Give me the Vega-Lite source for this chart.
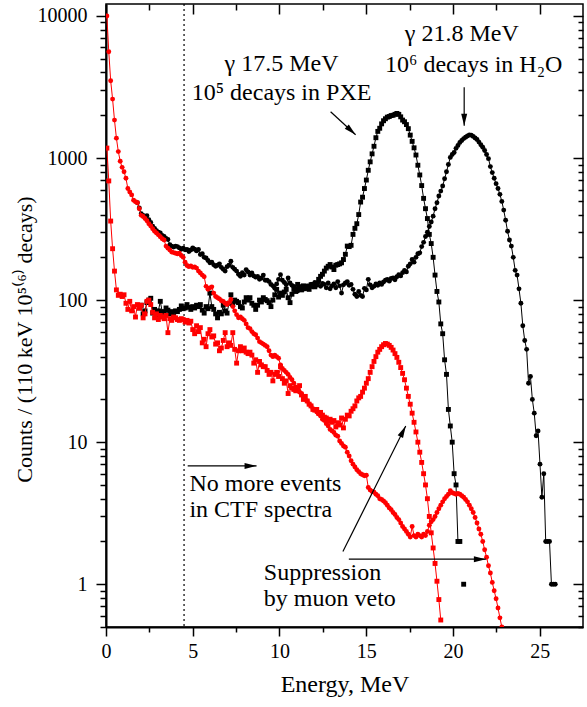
{
  "$schema": "https://vega.github.io/schema/vega-lite/v6.json",
  "width": 477,
  "height": 623,
  "autosize": "none",
  "padding": {"left": 106, "top": 4, "right": 4, "bottom": 80},
  "background": "white",
  "config": {
    "view": {"stroke": "black", "strokeWidth": 1.5},
    "font": "Liberation Serif",
    "axis": {
      "labelFont": "Liberation Serif", "titleFont": "Liberation Serif",
      "labelFontSize": 20, "titleFontSize": 22, "titleFontWeight": "normal",
      "labelColor": "black", "titleColor": "black", "tickColor": "black", "domainColor": "black",
      "grid": false, "tickWidth": 1.5, "domainWidth": 2, "labelFlush": false, "labelOverlap": false
    }
  },
  "datasets": {
    "spec": [
      {"e":0.05,"rs":1175,"rc":10000},
      {"e":0.16,"rs":690,"rc":5600},
      {"e":0.27,"rs":360,"rc":3500},
      {"e":0.38,"rs":230,"rc":2600},
      {"e":0.49,"rs":160,"rc":1850},
      {"e":0.60,"rs":118,"rc":1380},
      {"e":0.71,"rs":108,"rc":1110},
      {"e":0.82,"rs":110,"rc":950},
      {"e":0.93,"rs":106,"rc":860},
      {"e":1.04,"rs":109,"rc":800},
      {"e":1.15,"rs":95,"rc":720},
      {"e":1.26,"rs":86,"rc":610},
      {"e":1.37,"rs":98,"rc":577},
      {"e":1.48,"rs":84,"rc":550},
      {"e":1.59,"rs":90,"rc":505},
      {"e":1.70,"rs":76,"rc":492},
      {"e":1.81,"bc":485,"rs":93,"rc":484},
      {"e":1.92,"bs":88,"bc":445,"rs":88,"rc":440},
      {"e":2.03,"bs":92,"bc":405,"rs":92,"rc":395},
      {"e":2.14,"bs":80,"bc":395,"rs":75,"rc":388},
      {"e":2.25,"bs":84,"bc":382,"rs":80,"rc":375},
      {"e":2.36,"bs":96,"bc":393,"rs":98,"rc":362},
      {"e":2.47,"bs":100,"bc":368,"rs":100,"rc":345},
      {"e":2.58,"bs":103,"bc":352,"rs":93,"rc":332},
      {"e":2.69,"bs":81,"bc":331,"rs":82,"rc":318},
      {"e":2.80,"bs":86,"bc":320,"rs":75,"rc":305},
      {"e":2.91,"bs":79,"bc":308,"rs":80,"rc":297},
      {"e":3.02,"bs":84,"bc":300,"rs":73,"rc":288},
      {"e":3.13,"bs":98,"bc":297,"rs":78,"rc":279},
      {"e":3.24,"bs":83,"bc":285,"rs":76,"rc":270},
      {"e":3.35,"bs":82,"bc":281,"rs":74,"rc":265},
      {"e":3.46,"bs":88,"bc":272,"rs":78,"rc":240},
      {"e":3.57,"bs":85,"bc":267,"rs":59,"rc":232},
      {"e":3.68,"bs":80,"bc":245,"rs":74,"rc":225},
      {"e":3.79,"bs":83,"bc":240,"rs":72,"rc":218},
      {"e":3.90,"bs":77,"bc":236,"rs":76,"rc":216},
      {"e":4.01,"bs":84,"bc":240,"rs":75,"rc":214},
      {"e":4.12,"bs":83,"bc":238,"rs":73,"rc":212},
      {"e":4.23,"bs":86,"bc":233,"rs":72,"rc":214},
      {"e":4.34,"bs":91,"bc":228,"rs":74,"rc":206},
      {"e":4.45,"bs":87,"bc":232,"rs":73,"rc":200},
      {"e":4.56,"bs":88,"bc":226,"rs":70,"rc":185},
      {"e":4.67,"bs":93,"bc":227,"rs":72,"rc":175},
      {"e":4.78,"bs":89,"bc":220,"rs":69,"rc":172},
      {"e":4.89,"bs":86,"bc":225,"rs":71,"rc":174},
      {"e":5.00,"bs":90,"bc":233,"rs":62,"rc":170},
      {"e":5.11,"bs":88,"bc":228,"rs":58,"rc":171},
      {"e":5.22,"bs":92,"bc":222,"rs":66,"rc":168},
      {"e":5.33,"bs":90,"bc":227,"rs":60,"rc":160},
      {"e":5.44,"bs":93,"bc":209,"rs":64,"rc":155},
      {"e":5.55,"bs":85,"bc":212,"rs":50,"rc":150},
      {"e":5.66,"bs":81,"bc":200,"rs":53,"rc":146},
      {"e":5.77,"bs":90,"bc":198,"rs":47,"rc":125},
      {"e":5.88,"bs":87,"bc":190,"rs":58,"rc":119},
      {"e":5.99,"bs":112,"bc":183,"rs":62,"rc":122},
      {"e":6.10,"bs":90,"bc":185,"rs":55,"rc":124},
      {"e":6.21,"bs":86,"bc":177,"rs":56,"rc":112},
      {"e":6.32,"bs":80,"bc":173,"rs":49,"rc":106},
      {"e":6.43,"bs":75,"bc":176,"rs":50,"rc":104},
      {"e":6.54,"bs":82,"bc":180,"rs":44,"rc":102},
      {"e":6.65,"bs":80,"bc":170,"rs":46,"rc":99},
      {"e":6.76,"bs":92,"bc":165,"rs":52,"rc":98},
      {"e":6.87,"bs":84,"bc":160,"rs":59,"rc":95},
      {"e":6.98,"bs":81,"bc":172,"rs":47,"rc":93},
      {"e":7.09,"bs":95,"bc":176,"rs":50,"rc":96},
      {"e":7.20,"bs":109,"bc":188,"rs":48,"rc":101},
      {"e":7.31,"bs":93,"bc":170,"rs":59,"rc":90},
      {"e":7.42,"bs":100,"bc":165,"rs":45,"rc":84},
      {"e":7.53,"bs":98,"bc":160,"rs":36,"rc":79},
      {"e":7.64,"bs":96,"bc":152,"rs":44,"rc":75},
      {"e":7.75,"bs":90,"bc":147,"rs":47,"rc":76},
      {"e":7.86,"bs":88,"bc":156,"rs":44,"rc":74},
      {"e":7.97,"bs":97,"bc":150,"rs":46,"rc":72},
      {"e":8.08,"bs":104,"bc":164,"rs":43,"rc":68},
      {"e":8.19,"bs":100,"bc":158,"rs":42,"rc":64},
      {"e":8.30,"bs":104,"bc":150,"rs":43,"rc":63},
      {"e":8.41,"bs":95,"bc":155,"rs":41,"rc":60},
      {"e":8.52,"bs":92,"bc":148,"rs":36,"rc":58},
      {"e":8.63,"bs":86,"bc":145,"rs":38,"rc":57},
      {"e":8.74,"bs":92,"bc":147,"rs":31,"rc":54},
      {"e":8.85,"bs":100,"bc":140,"rs":37,"rc":51},
      {"e":8.96,"bs":97,"bc":143,"rs":35,"rc":50},
      {"e":9.07,"bs":104,"bc":150,"rs":34,"rc":49},
      {"e":9.18,"bs":101,"bc":138,"rs":34,"rc":48},
      {"e":9.29,"bs":99,"bc":138,"rs":32,"rc":47},
      {"e":9.40,"bs":96,"bc":135,"rs":30,"rc":44},
      {"e":9.51,"bs":90,"bc":129,"rs":31,"rc":41},
      {"e":9.62,"bs":100,"bc":126,"rs":27,"rc":40},
      {"e":9.73,"bs":109,"bc":121,"rs":30,"rc":41},
      {"e":9.84,"bs":119,"bc":130,"rs":31,"rc":40},
      {"e":9.95,"bs":105,"bc":140,"rs":29,"rc":39},
      {"e":10.06,"bs":112,"bc":151,"rs":34,"rc":35},
      {"e":10.17,"bs":108,"bc":138,"rs":28,"rc":33},
      {"e":10.28,"bs":114,"bc":133,"rs":26,"rc":32},
      {"e":10.39,"bs":119,"bc":128,"rs":27,"rc":31},
      {"e":10.50,"bs":104,"bc":143,"rs":22,"rc":30},
      {"e":10.61,"bs":96,"bc":132,"rs":25,"rc":28.5},
      {"e":10.72,"bs":110,"bc":127,"rs":24,"rc":27.5},
      {"e":10.83,"bs":119,"bc":125,"rs":23.5,"rc":26},
      {"e":10.94,"bs":115,"bc":120,"rs":23,"rc":24.5},
      {"e":11.05,"bs":129,"bc":116,"rs":24,"rc":23.5},
      {"e":11.16,"bs":122,"bc":124,"rs":25,"rc":22.5},
      {"e":11.27,"bs":118,"bc":125,"rs":21.5,"rc":22},
      {"e":11.38,"bs":126,"bc":119,"rs":20,"rc":21},
      {"e":11.49,"bs":121,"bc":120,"rs":21,"rc":20},
      {"e":11.60,"bs":125,"bc":126,"rs":19.5,"rc":19.5},
      {"e":11.71,"bs":119,"bc":121,"rs":18.5,"rc":18.6},
      {"e":11.82,"bs":128,"bc":129,"rs":18,"rc":18},
      {"e":11.93,"bs":129,"bc":124,"rs":17,"rc":17.2},
      {"e":12.04,"bs":124,"bc":133,"rs":16.8,"rc":17},
      {"e":12.15,"bs":129,"bc":127,"rs":17,"rc":16.3},
      {"e":12.26,"bs":140,"bc":135,"rs":16,"rc":15.8},
      {"e":12.37,"bs":147,"bc":125,"rs":16.2,"rc":15.3},
      {"e":12.48,"bs":152,"bc":131,"rs":15.5,"rc":14.5},
      {"e":12.59,"bs":160,"bc":129,"rs":15,"rc":14.2},
      {"e":12.70,"bs":168,"bc":122,"rs":14.8,"rc":13.5},
      {"e":12.81,"bs":173,"bc":132,"rs":14,"rc":13},
      {"e":12.92,"bs":178,"bc":120,"rs":14.5,"rc":12.3},
      {"e":13.03,"bs":171,"bc":126,"rs":13.8,"rc":12},
      {"e":13.14,"bs":164,"bc":130,"rs":14.2,"rc":11.7},
      {"e":13.25,"bs":176,"bc":122,"rs":12.8,"rc":11.2},
      {"e":13.36,"bs":178,"bc":135,"rs":13.7,"rc":11},
      {"e":13.47,"bs":180,"bc":126,"rs":13.2,"rc":10.2},
      {"e":13.58,"bs":183,"bc":112,"rs":14.8,"rc":9.8},
      {"e":13.69,"bs":193,"bc":128,"rs":12.6,"rc":9.4},
      {"e":13.80,"bs":210,"bc":132,"rs":14.5,"rc":9.2},
      {"e":13.91,"bs":240,"bc":135,"rs":15.5,"rc":8.5},
      {"e":14.02,"bs":238,"bc":127,"rs":15.3,"rc":8.0},
      {"e":14.13,"bs":243,"bc":129,"rs":16.5,"rc":7.4},
      {"e":14.24,"bs":290,"bc":119,"rs":17.2,"rc":7.0},
      {"e":14.35,"bs":320,"bc":110,"rs":18,"rc":6.7},
      {"e":14.46,"bs":345,"bc":106,"rs":19.5,"rc":6.4},
      {"e":14.57,"bs":400,"bc":115,"rs":20.5,"rc":6.2},
      {"e":14.68,"bs":490,"bc":108,"rs":21,"rc":6.0},
      {"e":14.79,"bs":530,"bc":106,"rs":22.5,"rc":5.9},
      {"e":14.90,"bs":610,"bc":121,"rs":24,"rc":5.8},
      {"e":15.01,"bs":700,"bc":118,"rs":26,"rc":5.85},
      {"e":15.12,"bs":820,"bc":140,"rs":28,"rc":4.8},
      {"e":15.23,"bs":940,"bc":128,"rs":31,"rc":4.6},
      {"e":15.34,"bs":1070,"bc":122,"rs":34,"rc":4.5},
      {"e":15.45,"bs":1210,"bc":125,"rs":37,"rc":4.45},
      {"e":15.56,"bs":1390,"bc":130,"rs":40,"rc":4.3},
      {"e":15.67,"bs":1540,"bc":127,"rs":43,"rc":4.2},
      {"e":15.78,"bs":1620,"bc":132,"rs":45,"rc":4.0},
      {"e":15.89,"bs":1740,"bc":129,"rs":47,"rc":3.95},
      {"e":16.00,"bs":1830,"bc":134,"rs":48.5,"rc":3.85},
      {"e":16.11,"bs":1890,"bc":138,"rs":49.5,"rc":3.75},
      {"e":16.22,"bs":1940,"bc":140,"rs":49,"rc":3.6},
      {"e":16.33,"bs":1960,"bc":136,"rs":48,"rc":3.45},
      {"e":16.44,"bs":1990,"bc":142,"rs":46.5,"rc":3.35},
      {"e":16.55,"bs":2000,"bc":143,"rs":44.5,"rc":3.2},
      {"e":16.66,"bs":2030,"bc":139,"rs":42,"rc":3.1},
      {"e":16.77,"bs":2060,"bc":146,"rs":39.5,"rc":2.95},
      {"e":16.88,"bs":2030,"bc":151,"rs":36.5,"rc":2.85},
      {"e":16.99,"bs":1950,"bc":148,"rs":33.5,"rc":2.7},
      {"e":17.10,"bs":1850,"bc":156,"rs":30.5,"rc":2.55},
      {"e":17.21,"bs":1800,"bc":162,"rs":27.5,"rc":2.45},
      {"e":17.32,"bs":1720,"bc":158,"rs":24,"rc":2.35},
      {"e":17.43,"bs":1610,"bc":173,"rs":21,"rc":2.25},
      {"e":17.54,"bs":1450,"bc":180,"rs":18.5,"rc":2.15},
      {"e":17.65,"bs":1310,"bc":193,"rs":16,"rc":2.55},
      {"e":17.76,"bs":1180,"bc":185,"rs":13.8,"rc":2.2},
      {"e":17.87,"bs":1050,"bc":200,"rs":11.8,"rc":2.15},
      {"e":17.98,"bs":890,"bc":212,"rs":10,"rc":2.25},
      {"e":18.09,"bs":760,"bc":215,"rs":8.5,"rc":2.2},
      {"e":18.20,"bs":640,"bc":238,"rs":7.2,"rc":2.15},
      {"e":18.31,"bs":520,"bc":255,"rs":6.0,"rc":2.25},
      {"e":18.42,"bs":440,"bc":280,"rs":5.0,"rc":2.2},
      {"e":18.53,"bs":375,"bc":300,"rs":4.0,"rc":2.35},
      {"e":18.64,"bs":290,"bc":330,"rs":3.0,"rc":2.6},
      {"e":18.75,"bs":250,"bc":355,"rs":2.3,"rc":2.75},
      {"e":18.86,"bs":200,"bc":390,"rs":1.8,"rc":2.85},
      {"e":18.97,"bs":150,"bc":440,"rs":1.4,"rc":3.0},
      {"e":19.08,"bs":115,"bc":485,"rs":1.05,"rc":3.2},
      {"e":19.19,"bs":97,"bc":540,"rs":0.78,"rc":3.4},
      {"e":19.30,"bs":68,"bc":585,"rs":0.56,"rc":3.6},
      {"e":19.41,"bs":58,"bc":635,"rc":3.8},
      {"e":19.52,"bs":38,"bc":715,"rc":4.0},
      {"e":19.63,"bs":30,"bc":800,"rc":4.15},
      {"e":19.74,"bs":17,"bc":900,"rc":4.3},
      {"e":19.85,"bs":13,"bc":1010,"rc":4.55},
      {"e":19.96,"bs":10,"bc":1060,"rc":4.4},
      {"e":20.07,"bs":6,"bc":1095,"rc":4.35},
      {"e":20.18,"bs":5,"bc":1170,"rc":4.3},
      {"e":20.29,"bs":2,"bc":1225,"rc":4.35},
      {"e":20.40,"bs":2,"bc":1285,"rc":4.3},
      {"e":20.51,"bc":1330,"rc":4.2},
      {"e":20.62,"bx":1,"bc":1370,"rc":4.1},
      {"e":20.73,"bc":1400,"rc":3.95},
      {"e":20.84,"bc":1430,"rc":3.8},
      {"e":20.95,"bc":1455,"rc":3.6},
      {"e":21.06,"bc":1445,"rc":3.4},
      {"e":21.17,"bc":1420,"rc":3.2},
      {"e":21.28,"bc":1385,"rc":2.95},
      {"e":21.39,"bc":1350,"rc":2.7},
      {"e":21.50,"bc":1295,"rc":2.45},
      {"e":21.61,"bc":1240,"rc":2.25},
      {"e":21.72,"bc":1190,"rc":2.0},
      {"e":21.83,"bc":1130,"rc":1.75},
      {"e":21.94,"bc":1060,"rc":1.55},
      {"e":22.05,"bc":990,"rc":1.35},
      {"e":22.16,"bc":870,"rc":1.2},
      {"e":22.27,"bc":790,"rc":1.03},
      {"e":22.38,"bc":720,"rc":0.9},
      {"e":22.49,"bc":660,"rc":0.79},
      {"e":22.60,"bc":610,"rc":0.68},
      {"e":22.71,"bc":555,"rc":0.58},
      {"e":22.82,"bc":495,"rc":0.5},
      {"e":22.93,"bc":430},
      {"e":23.04,"bc":365},
      {"e":23.15,"bc":305},
      {"e":23.26,"bc":265},
      {"e":23.37,"bc":240},
      {"e":23.48,"bc":200},
      {"e":23.59,"bc":162},
      {"e":23.70,"bc":150},
      {"e":23.81,"bc":120},
      {"e":23.92,"bc":95},
      {"e":24.03,"bc":66},
      {"e":24.14,"bc":52},
      {"e":24.25,"bc":45},
      {"e":24.36,"bc":26},
      {"e":24.47,"bc":29},
      {"e":24.58,"bc":20},
      {"e":24.69,"bc":16},
      {"e":24.80,"bc":11.1},
      {"e":24.91,"bc":12},
      {"e":25.02,"bc":7},
      {"e":25.13,"bc":4.1},
      {"e":25.24,"bc":6},
      {"e":25.35,"bc":2},
      {"e":25.46,"bc":2},
      {"e":25.57,"bc":2},
      {"e":25.68,"bc":1},
      {"e":25.79,"bc":1},
      {"e":25.90,"bc":1}
    ],
    "arrows": [
      {"id":"pxe","x":12.95,"y":2115,"x2":14.39,"y2":1458},
      {"id":"h2o","x":20.65,"y":3155,"x2":20.65,"y2":1687},
      {"id":"ctf","x":4.71,"y":6.8,"x2":8.68,"y2":6.8},
      {"id":"diag","x":13.66,"y":1.70,"x2":17.28,"y2":13.0},
      {"id":"hor","x":14.0,"y":1.5,"x2":21.9,"y2":1.5}
    ]
  },
  "layer": [
    {
      "data": {"name": "spec"},
      "transform": [{"filter": "datum.e < 0"}],
      "mark": {"type": "point", "opacity": 0},
      "encoding": {
        "x": {"field": "e", "type": "quantitative", "scale": {"domain": [0, 27.5], "nice": false, "zero": false},
              "axis": {"orient": "bottom", "values": [0,2.5,5,7.5,10,12.5,15,17.5,20,22.5,25],
                       "labelExpr": "datum.value % 5 == 0 ? format(datum.value, 'd') : ''",
                       "tickSize": 9,
                       "tickDash": {"condition": {"test": "datum.value % 5 != 0", "value": [5, 20]}, "value": [1, 0]},
                       "labelPadding": 5, "domain": true, "title": "Energy, MeV", "titleFontSize": 24, "titlePadding": 11}},
        "y": {"field": "rc", "type": "quantitative", "scale": {"type": "log", "domain": [0.5, 12140], "nice": false},
              "axis": {"orient": "left",
                       "values": [0.5,0.6,0.7,0.8,0.9,1,2,3,4,5,6,7,8,9,10,20,30,40,50,60,70,80,90,100,200,300,400,500,600,700,800,900,1000,2000,3000,4000,5000,6000,7000,8000,9000,10000],
                       "labelExpr": "indexof([1,10,100,1000,10000], datum.value) >= 0 ? format(datum.value, 'd') : ''",
                       "tickSize": 10,
                       "tickDash": {"condition": {"test": "indexof([1,10,100,1000,10000], datum.value) < 0", "value": [6, 20]}, "value": [1, 0]},
                       "labelPadding": 9, "domain": true, "title": "Counts / (110 keV 10⁵⁽⁶⁾ decays)",
                       "titleX": -82, "titleY": 335, "titleBaseline": "middle", "titleAlign": "center", "titleAngle": -90}}
      }
    },
    {
      "data": {"name": "spec"},
      "transform": [{"filter": "datum.e < 0"}],
      "mark": {"type": "point", "opacity": 0},
      "encoding": {
        "x": {"field": "e", "type": "quantitative", "scale": {"domain": [0, 27.5], "nice": false, "zero": false},
              "axis": {"orient": "top", "values": [0,2.5,5,7.5,10,12.5,15,17.5,20,22.5,25],
                       "tickSize": -10,
                       "tickDash": {"condition": {"test": "datum.value % 5 != 0", "value": [6, 20]}, "value": [1, 0]},
                       "labels": false, "domain": false, "title": null}},
        "y": {"field": "rc", "type": "quantitative", "scale": {"type": "log", "domain": [0.5, 12140], "nice": false},
              "axis": {"orient": "right",
                       "values": [0.5,0.6,0.7,0.8,0.9,1,2,3,4,5,6,7,8,9,10,20,30,40,50,60,70,80,90,100,200,300,400,500,600,700,800,900,1000,2000,3000,4000,5000,6000,7000,8000,9000,10000],
                       "tickSize": -10,
                       "tickDash": {"condition": {"test": "indexof([1,10,100,1000,10000], datum.value) < 0", "value": [5, 20]}, "value": [1, 0]},
                       "labels": false, "domain": false, "title": null}}
      }
    },
    {
      "data": {"values": [{"e": 4.5}]},
      "mark": {"type": "rule", "color": "black", "strokeWidth": 1.2, "strokeDash": [2, 3]},
      "encoding": {
        "x": {"field": "e", "type": "quantitative", "scale": {"domain": [0, 27.5], "nice": false, "zero": false}, "axis": null}
      }
    },
    {
      "data": {"name": "spec"},
      "transform": [{"fold": ["bs", "bc", "bx"], "as": ["s", "c"]}, {"filter": "isValid(datum.c)"}],
      "encoding": {
        "x": {"field": "e", "type": "quantitative", "scale": {"domain": [0, 27.5], "nice": false, "zero": false}, "axis": null},
        "y": {"field": "c", "type": "quantitative", "scale": {"type": "log", "domain": [0.5, 12140], "nice": false}, "axis": null},
        "detail": {"field": "s"}
      },
      "layer": [
        {"mark": {"type": "line", "color": "black", "strokeWidth": 1, "clip": true}},
        {"mark": {"type": "point", "filled": true, "color": "black", "size": 24, "opacity": 1, "clip": true},
         "encoding": {"shape": {"field": "s", "scale": {"domain": ["bs","bc","bx","rs","rc"], "range": ["square","circle","square","square","circle"]}, "legend": null}}}
      ]
    },
    {
      "data": {"name": "spec"},
      "transform": [{"fold": ["rs", "rc"], "as": ["s", "c"]}, {"filter": "isValid(datum.c)"}],
      "encoding": {
        "x": {"field": "e", "type": "quantitative", "scale": {"domain": [0, 27.5], "nice": false, "zero": false}, "axis": null},
        "y": {"field": "c", "type": "quantitative", "scale": {"type": "log", "domain": [0.5, 12140], "nice": false}, "axis": null},
        "detail": {"field": "s"}
      },
      "layer": [
        {"mark": {"type": "line", "color": "#ff0000", "strokeWidth": 1, "clip": true}},
        {"mark": {"type": "point", "filled": true, "color": "#ff0000", "size": 24, "opacity": 1, "clip": true},
         "encoding": {"shape": {"field": "s", "scale": {"domain": ["bs","bc","bx","rs","rc"], "range": ["square","circle","square","square","circle"]}, "legend": null}}}
      ]
    },
    {
      "data": {"name": "arrows"},
      "mark": {"type": "rule", "color": "black", "strokeWidth": 1.2},
      "encoding": {
        "x": {"field": "x", "type": "quantitative", "scale": {"domain": [0, 27.5], "nice": false, "zero": false}, "axis": null},
        "y": {"field": "y", "type": "quantitative", "scale": {"type": "log", "domain": [0.5, 12140], "nice": false}, "axis": null},
        "x2": {"field": "x2"},
        "y2": {"field": "y2"}
      }
    },
    {
      "data": {"name": "arrows"},
      "transform": [{"filter": "datum.id == 'pxe'"}],
      "mark": {"type": "point", "shape": "M0,0L-0.25,1L0.25,1Z", "filled": true, "color": "black", "opacity": 1, "size": 576, "angle": 132.6},
      "encoding": {
        "x": {"field": "x2", "type": "quantitative", "scale": {"domain": [0, 27.5], "nice": false, "zero": false}, "axis": null},
        "y": {"field": "y2", "type": "quantitative", "scale": {"type": "log", "domain": [0.5, 12140], "nice": false}, "axis": null}
      }
    },
    {
      "data": {"name": "arrows"},
      "transform": [{"filter": "datum.id == 'h2o'"}],
      "mark": {"type": "point", "shape": "M0,0L-0.25,1L0.25,1Z", "filled": true, "color": "black", "opacity": 1, "size": 576, "angle": 180},
      "encoding": {
        "x": {"field": "x2", "type": "quantitative", "scale": {"domain": [0, 27.5], "nice": false, "zero": false}, "axis": null},
        "y": {"field": "y2", "type": "quantitative", "scale": {"type": "log", "domain": [0.5, 12140], "nice": false}, "axis": null}
      }
    },
    {
      "data": {"name": "arrows"},
      "transform": [{"filter": "datum.id == 'ctf' || datum.id == 'hor'"}],
      "mark": {"type": "point", "shape": "M0,0L-0.25,1L0.25,1Z", "filled": true, "color": "black", "opacity": 1, "size": 576, "angle": 90},
      "encoding": {
        "x": {"field": "x2", "type": "quantitative", "scale": {"domain": [0, 27.5], "nice": false, "zero": false}, "axis": null},
        "y": {"field": "y2", "type": "quantitative", "scale": {"type": "log", "domain": [0.5, 12140], "nice": false}, "axis": null}
      }
    },
    {
      "data": {"name": "arrows"},
      "transform": [{"filter": "datum.id == 'diag'"}],
      "mark": {"type": "point", "shape": "M0,0L-0.25,1L0.25,1Z", "filled": true, "color": "black", "opacity": 1, "size": 576, "angle": 26.6},
      "encoding": {
        "x": {"field": "x2", "type": "quantitative", "scale": {"domain": [0, 27.5], "nice": false, "zero": false}, "axis": null},
        "y": {"field": "y2", "type": "quantitative", "scale": {"type": "log", "domain": [0.5, 12140], "nice": false}, "axis": null}
      }
    },
    {
      "data": {"values": [
        {"x": 10.12, "y": 4105, "t": "γ 17.5 MeV"},
        {"x": 10.12, "y": 2570, "t": "10⁵ decays in PXE"},
        {"x": 20.51, "y": 6670, "t": "γ 21.8 MeV"},
        {"x": 21.2, "y": 4040, "t": "10⁶ decays in H₂O"}
      ]},
      "mark": {"type": "text", "align": "center", "baseline": "alphabetic", "font": "Liberation Serif", "fontSize": 24, "color": "black"},
      "encoding": {
        "x": {"field": "x", "type": "quantitative", "scale": {"domain": [0, 27.5], "nice": false, "zero": false}, "axis": null},
        "y": {"field": "y", "type": "quantitative", "scale": {"type": "log", "domain": [0.5, 12140], "nice": false}, "axis": null},
        "text": {"field": "t"}
      }
    },
    {
      "data": {"values": [
        {"x": 4.81, "y": 4.54, "t": "No more events"},
        {"x": 4.81, "y": 2.95, "t": "in CTF spectra"},
        {"x": 9.1, "y": 1.076, "t": "Suppression"},
        {"x": 9.1, "y": 0.706, "t": "by muon veto"}
      ]},
      "mark": {"type": "text", "align": "left", "baseline": "alphabetic", "font": "Liberation Serif", "fontSize": 24, "color": "black"},
      "encoding": {
        "x": {"field": "x", "type": "quantitative", "scale": {"domain": [0, 27.5], "nice": false, "zero": false}, "axis": null},
        "y": {"field": "y", "type": "quantitative", "scale": {"type": "log", "domain": [0.5, 12140], "nice": false}, "axis": null},
        "text": {"field": "t"}
      }
    }
  ],
  "resolve": {"axis": {"x": "independent", "y": "independent"}}
}
